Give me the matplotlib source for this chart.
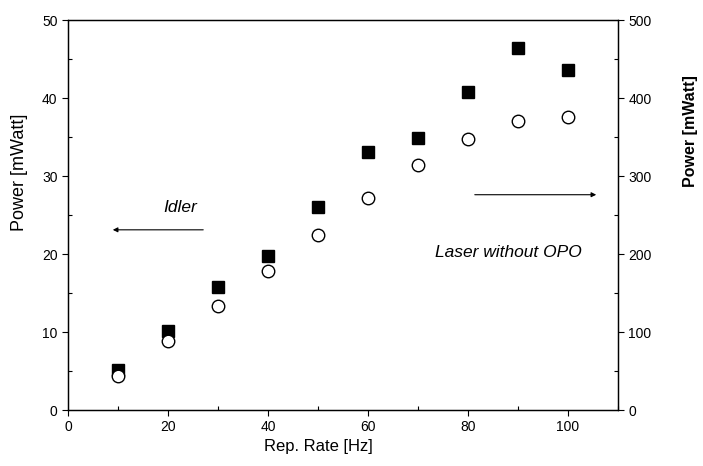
import matplotlib.pyplot as plt
from matplotlib.ticker import MultipleLocator

plt.rcParams['font.family'] = ['Liberation Sans', 'DejaVu Sans']

rep_rate = [10, 20, 30, 40, 50, 60, 70, 80, 90, 100]
idler_mw = [5.1, 10.1, 15.8, 19.7, 26.0, 33.1, 34.9, 40.8, 46.4, 43.6]
laser_mw = [44, 88, 133, 178, 224, 272, 314, 347, 371, 376]

fig = plt.figure(figsize=(7.03, 4.66), dpi=100)
ax = fig.add_axes([68 / 703, 56 / 466, 550 / 703, 390 / 466])
ax2 = ax.twinx()

ax.plot(rep_rate, idler_mw, 's', color='black', ms=8.5, zorder=3)
ax2.plot(rep_rate, laser_mw, 'o', mfc='white', mec='black', mew=1.0, ms=9, zorder=2)

ax.set_xlim(0, 110)
ax.set_ylim(0, 50)
ax2.set_ylim(0, 500)

ax.xaxis.set_major_locator(MultipleLocator(20))
ax.xaxis.set_minor_locator(MultipleLocator(10))
ax.yaxis.set_major_locator(MultipleLocator(10))
ax.yaxis.set_minor_locator(MultipleLocator(5))
ax2.yaxis.set_major_locator(MultipleLocator(100))
ax2.yaxis.set_minor_locator(MultipleLocator(50))

for a in (ax, ax2):
    a.tick_params(which='major', direction='out', length=4, width=0.8, labelsize=10)
    a.tick_params(which='minor', direction='in', length=3, width=0.8)
    for s in a.spines.values():
        s.set_linewidth(0.9)

ax.set_xlabel('Rep. Rate [Hz]', fontsize=12, labelpad=4)
ax.xaxis.set_label_coords(0.455, -0.075)
ax.set_ylabel('Power [mWatt]', fontsize=13)
ax.yaxis.set_label_coords(-0.073, 0.61)
ax2.set_ylabel('Power [mWatt]', fontsize=11.5, fontweight='bold')
ax2.yaxis.set_label_coords(1.119, 0.715)

ax.annotate('', xy=(8.4, 23.1), xytext=(27.6, 23.1),
            arrowprops=dict(arrowstyle='-|>', color='black', lw=0.8, mutation_scale=7))
ax.text(22.5, 26.0, 'Idler', fontsize=12.5, style='italic', ha='center', va='center')

ax.annotate('', xy=(106.2, 27.6), xytext=(80.8, 27.6),
            arrowprops=dict(arrowstyle='-|>', color='black', lw=0.8, mutation_scale=7))
ax.text(88.0, 20.2, 'Laser without OPO', fontsize=12.5, style='italic', ha='center', va='center')

fig.savefig('out.png', dpi=100)
